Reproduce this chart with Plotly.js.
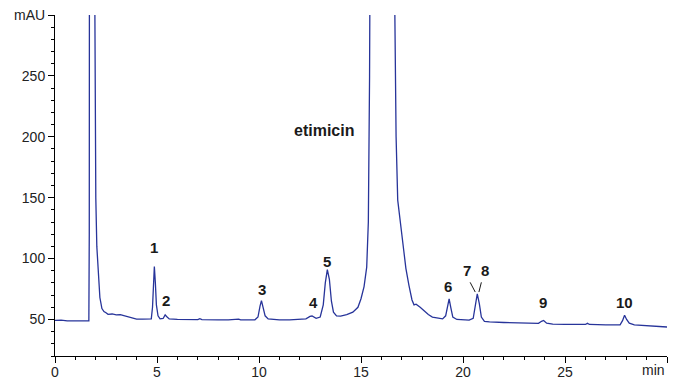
<!DOCTYPE html>
<html>
<head>
<meta charset="utf-8">
<script src="https://cdn.plot.ly/plotly-3.0.1.min.js"></script>
<style>html,body{margin:0;padding:0;background:#fff;}#chart{width:677px;height:380px;}</style>
</head>
<body>
<div id="chart"></div>
<script>
// Retention time (min) and absorbance (mAU)
const timeMin = [
  0, 0.3, 0.6, 1.0, 1.4, 1.66,
  1.68, 1.69, 1.92, 1.95, 2.0, 2.05, 2.1, 2.15, 2.2, 2.3, 2.4, 2.5, 2.6, 2.8, 3.0, 3.2, 3.4, 3.6, 3.8, 4.0, 4.3, 4.6,
  4.72, 4.78, 4.83, 4.87, 4.92, 4.97, 5.05, 5.15, 5.3, 5.4, 5.47, 5.6,
  6.0, 6.5, 7.0, 7.1, 7.2, 8.0, 8.5, 9.0, 9.1, 9.8,
  9.95, 10.05, 10.12, 10.2, 10.3, 10.45,
  11.0, 11.5, 12.0, 12.3, 12.5, 12.6, 12.8, 13.0,
  13.15, 13.25, 13.35, 13.45, 13.55, 13.65, 13.8,
  14.0, 14.3, 14.6, 14.85, 15.0, 15.15, 15.28, 15.36, 15.42, 15.46,
  16.62, 16.66, 16.72, 16.8, 16.9, 17.0, 17.1, 17.2, 17.35, 17.5, 17.6, 17.7, 17.9, 18.1, 18.3, 18.5, 18.8, 19.0,
  19.15, 19.25, 19.32, 19.4, 19.5, 19.7,
  20.0, 20.3, 20.5, 20.6, 20.7, 20.8, 20.9, 21.05, 21.3,
  22.0, 23.0, 23.7, 23.85, 23.95, 24.1, 24.4,
  25.0, 26.0, 26.1, 26.2, 27.0, 27.7,
  27.82, 27.92, 28.02, 28.15, 28.4, 29.0, 29.5, 30.0
];
const absorbance = [
  49.2, 49.4, 48.8, 48.6, 48.7, 48.8,
  120, 420, 420, 250, 150, 110, 93, 78, 68, 59, 56.5, 55.5, 54.2, 54.5, 53.8, 54, 53, 52, 50.8, 50.2, 50.3, 50,
  50.5, 60, 85, 93.5, 80, 62, 53, 50.5, 50.8, 53.8, 52.5, 50.5,
  50, 49.7, 49.8, 50.6, 49.8, 49.6, 49.6, 50.3, 49.6, 49.7,
  52, 61, 65.5, 60, 53, 50.5,
  49.6, 49.6, 49.8, 50.5, 52.5, 52.8, 51, 52,
  62, 80, 91, 83, 65, 56, 53,
  52.8, 54, 56, 60, 67, 77, 93, 130, 250, 420,
  420, 300, 200, 148, 132, 120, 106, 92, 78, 66, 62, 62.5, 60, 57, 54, 52, 51, 50.5,
  53, 62, 67, 60, 52, 50,
  49.6, 49.5, 51, 62, 71, 63, 52, 48.5, 48,
  47.5, 47, 46.8, 48.5, 49.2, 47, 46.2,
  46, 45.9, 46.8, 45.9, 45.5, 45.6,
  49, 53.5, 50, 47, 45.6, 45, 44.3, 43.8
];

// Peak labels
const peakLabels = ['1', '2', '3', '4', '5', 'etimicin', '6', '7', '8', '9', '10'];
const labelTime  = [4.85, 5.45, 10.15, 12.65, 13.33, 13.2, 19.26, 20.2, 21.1, 23.9, 27.9];
const labelMAU   = [109, 65.6, 74.6, 64, 98, 205, 77, 90, 90, 64, 64];

// Axis ticks
const xTickVals = [0, 5, 10, 15, 20, 25, 30];
const xTickText = ['0', '5', '10', '15', '20', '25', ''];
const xUnitLabel = 'min';
const yTickVals = [50, 100, 150, 200, 250, 300];
const yTickText = ['50', '100', '150', '200', '250', 'mAU'];

const lineColor = '#27349a';
const fontFam = 'Liberation Sans, Arial, sans-serif';

const annotations = peakLabels.map((t, i) => ({
  x: labelTime[i], y: labelMAU[i], xref: 'x', yref: 'y', text: '<b>' + t + '</b>',
  showarrow: false, font: {family: fontFam, size: t === 'etimicin' ? 16 : 15, color: '#1a1a1a'}
}));
annotations.push({
  x: 30, y: 0, xref: 'x', yref: 'paper', xanchor: 'right', yanchor: 'top', yshift: -4,
  text: xUnitLabel, showarrow: false, font: {family: fontFam, size: 14, color: '#222'}
});

const shapes = [
  {type: 'line', xref: 'x', yref: 'y', x0: 20.35, y0: 80.5, x1: 20.6, y1: 72.5, line: {color: '#1a1a1a', width: 1}},
  {type: 'line', xref: 'x', yref: 'y', x0: 20.9, y0: 80.5, x1: 20.78, y1: 72.5, line: {color: '#1a1a1a', width: 1}}
];

const trace = {
  x: timeMin, y: absorbance, type: 'scatter', mode: 'lines',
  line: {color: lineColor, width: 1.3}, hoverinfo: 'skip'
};

const layout = {
  width: 677, height: 380,
  margin: {l: 55, r: 10, t: 15, b: 24},
  paper_bgcolor: '#fff', plot_bgcolor: '#fff',
  showlegend: false,
  font: {family: fontFam, size: 14, color: '#222'},
  xaxis: {
    range: [0, 30], showgrid: false, zeroline: false,
    showline: true, linecolor: '#000', linewidth: 1,
    ticks: 'outside', ticklen: 6, tickcolor: '#000', tickwidth: 1,
    tickmode: 'array', tickvals: xTickVals, ticktext: xTickText,
    ticklabelstandoff: -3,
    minor: {dtick: 1, ticks: 'outside', ticklen: 3, tickcolor: '#000', showgrid: false},
    tickfont: {size: 14, color: '#222'}
  },
  yaxis: {
    range: [20, 300], showgrid: false, zeroline: false,
    showline: true, linecolor: '#000', linewidth: 1,
    ticks: 'outside', ticklen: 6, tickcolor: '#000', tickwidth: 1,
    tickmode: 'array', tickvals: yTickVals, ticktext: yTickText,
    minor: {dtick: 10, tick0: 0, ticks: 'outside', ticklen: 3, tickcolor: '#000', showgrid: false},
    tickfont: {size: 14, color: '#222'}
  },
  annotations: annotations,
  shapes: shapes
};

Plotly.newPlot('chart', [trace], layout, {displayModeBar: false, staticPlot: true});
</script>
</body>
</html>
